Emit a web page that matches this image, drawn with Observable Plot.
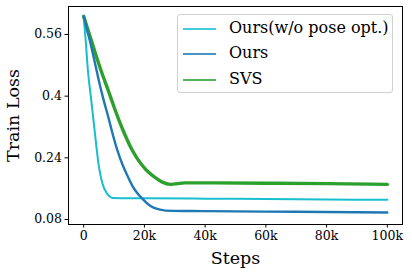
<!DOCTYPE html>
<html>
<head>
<meta charset="utf-8">
<script src="https://cdn.jsdelivr.net/npm/d3@7"></script>
<script src="https://cdn.jsdelivr.net/npm/@observablehq/plot@0.6"></script>
<style>
  html, body { margin: 0; padding: 0; background: #fff; }
  #wrap { position: relative; width: 412px; height: 274px; }
  #wrap, #wrap * { font-family: "DejaVu Serif", serif !important; }
  #wrap svg { display: block; }
  g[aria-label="y-axis label"] text, g[aria-label="x-axis label"] text { font-size: 17.5px; }
  #legend { position: absolute; left: 177px; top: 14px; width: 216px; height: 79px; box-sizing: border-box;
            border: 1px solid #d0d0d0; border-radius: 3px; background: rgba(255,255,255,0.85); }
  .row { position: absolute; left: 0; height: 20px; font-size: 16px; color: #000; white-space: nowrap; }
  .row .sw { position: absolute; left: 5px; top: 10px; width: 33px; height: 2px; opacity: 0.8; }
  .row .lb { position: absolute; left: 51px; top: 0; line-height: 20px; }
</style>
</head>
<body>
<div id="wrap"></div>
<script>
// Series names and colours
const seriesNames = ["Ours(w/o pose opt.)", "Ours", "SVS"];
const seriesColors = ["#17becf", "#1f77b4", "#2ca02c"];

// Ours (w/o pose opt.)
const noPoseSteps = [0, 700, 1400, 2500, 3600, 4900, 6100, 7700, 8700, 9500, 20000, 40000, 60000, 80000, 100000];
const noPoseLoss  = [0.607, 0.54, 0.466, 0.389, 0.311, 0.223, 0.175, 0.147, 0.139, 0.136, 0.135, 0.134, 0.133, 0.132, 0.131];

// Ours
const oursSteps = [0, 1000, 2000, 3600, 5000, 6400, 8300, 9000, 11000, 12800, 14500, 16000, 17500, 19300, 22000, 24800, 27000, 35000, 50000, 70000, 100000];
const oursLoss  = [0.607, 0.575, 0.545, 0.49, 0.44, 0.395, 0.34, 0.318, 0.262, 0.222, 0.192, 0.168, 0.15, 0.134, 0.115, 0.106, 0.103, 0.102, 0.101, 0.1, 0.098];

// SVS
const svsSteps = [0, 1000, 2500, 4500, 6000, 8300, 10000, 11900, 13800, 15700, 17500, 20400, 23700, 25900, 28500, 33500, 40000, 60000, 80000, 100000];
const svsLoss  = [0.607, 0.582, 0.545, 0.495, 0.46, 0.41, 0.372, 0.332, 0.296, 0.264, 0.24, 0.21, 0.188, 0.177, 0.171, 0.175, 0.175, 0.174, 0.173, 0.171];

// Ticks
const xTicks = [0, 20000, 40000, 60000, 80000, 100000];
const xTickLabels = ["0", "20k", "40k", "60k", "80k", "100k"];
const yTicks = [0.08, 0.24, 0.4, 0.56];
const yTickLabels = ["0.08", "0.24", "0.4", "0.56"];

const toRows = (steps, loss, name) => steps.map((s, i) => ({step: s, loss: loss[i], series: name}));
const noPose = toRows(noPoseSteps, noPoseLoss, seriesNames[0]);
const ours = toRows(oursSteps, oursLoss, seriesNames[1]);
const svs = toRows(svsSteps, svsLoss, seriesNames[2]);

const chart = Plot.plot({
  width: 412,
  height: 274,
  marginLeft: 68,
  marginRight: 10,
  marginTop: 6,
  marginBottom: 50,
  style: {fontFamily: "'DejaVu Serif', serif", background: "#fff", color: "#000"},
  x: {domain: [-5000, 105000]},
  y: {domain: [0.067, 0.6326]},
  marks: [
    Plot.line(svs, {x: "step", y: "loss", stroke: seriesColors[2], strokeWidth: 3.4, curve: "monotone-x"}),
    Plot.line(noPose, {x: "step", y: "loss", stroke: seriesColors[0], strokeWidth: 2, curve: "monotone-x"}),
    Plot.line(ours, {x: "step", y: "loss", stroke: seriesColors[1], strokeWidth: 2.4, curve: "monotone-x"}),
    Plot.frame({stroke: "#000", strokeWidth: 1}),
    Plot.axisX({ticks: xTicks, tickFormat: (d) => xTickLabels[xTicks.indexOf(d)], tickSize: 3.5, tickPadding: 3,
      fontSize: 12.5, label: "Steps", labelAnchor: "center", labelArrow: "none", labelOffset: 39}),
    Plot.axisY({ticks: yTicks, tickFormat: (d) => yTickLabels[yTicks.indexOf(d)], tickSize: 3.5, tickPadding: 3,
      fontSize: 12.5, label: "Train Loss", labelAnchor: "center", labelArrow: "none", labelOffset: 62})
  ]
});
const wrap = document.getElementById("wrap");
wrap.appendChild(chart);

const legend = document.createElement("div");
legend.id = "legend";
seriesNames.forEach((name, i) => {
  const row = document.createElement("div");
  row.className = "row";
  row.style.top = (3 + i * 25.3) + "px";
  const sw = document.createElement("span");
  sw.className = "sw";
  sw.style.background = seriesColors[i];
  const lb = document.createElement("span");
  lb.className = "lb";
  lb.textContent = name;
  row.appendChild(sw);
  row.appendChild(lb);
  legend.appendChild(row);
});
wrap.appendChild(legend);
</script>
</body>
</html>
